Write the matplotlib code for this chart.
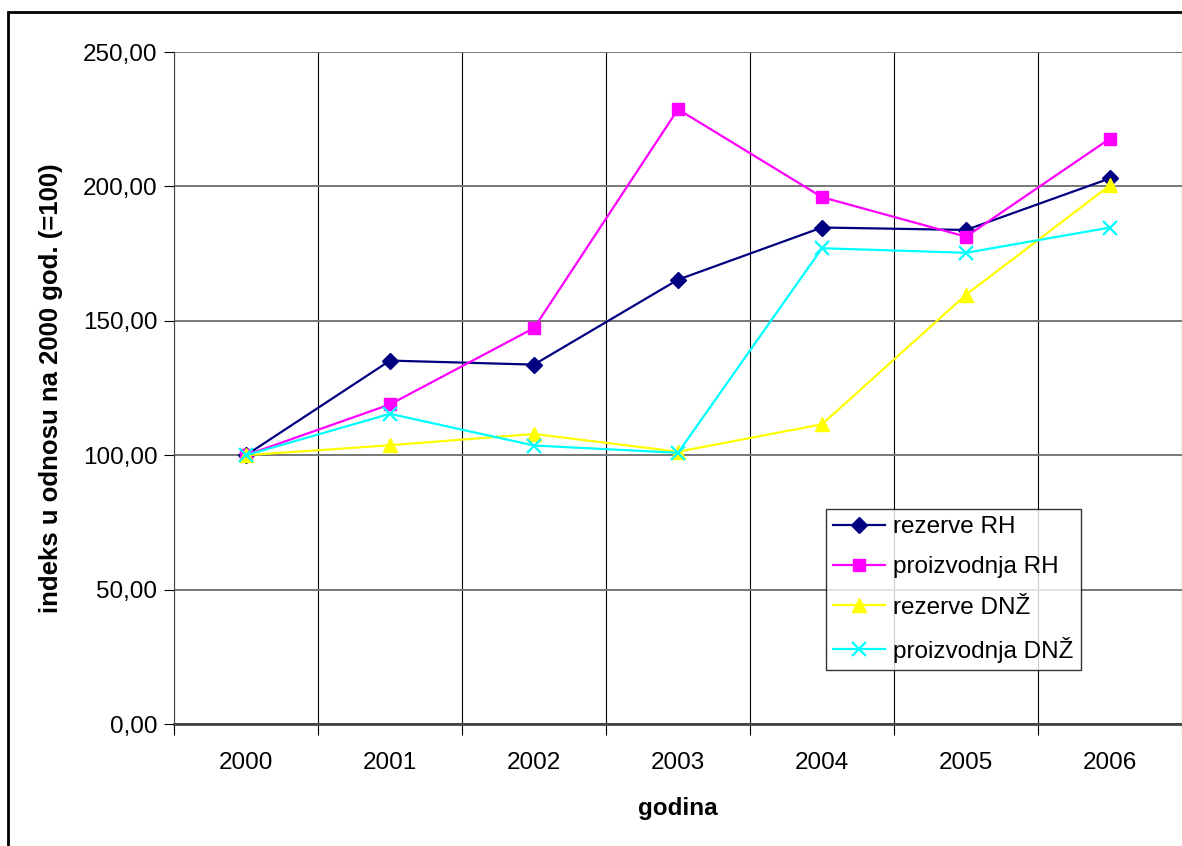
import matplotlib.pyplot as plt
from matplotlib.patches import Rectangle
from matplotlib.ticker import FuncFormatter

plt.rcParams['font.family'] = ['Liberation Sans', 'DejaVu Sans']

godine = ['2000', '2001', '2002', '2003', '2004', '2005', '2006']
rezerve_rh = [100.0, 135.2, 133.7, 165.3, 184.7, 183.8, 203.0]
proizvodnja_rh = [100.0, 118.9, 147.3, 228.7, 196.0, 181.3, 217.8]
rezerve_dnz = [100.0, 103.7, 107.9, 101.3, 111.5, 159.7, 200.4]
proizvodnja_dnz = [100.0, 115.4, 103.6, 100.9, 177.0, 175.3, 184.7]

fs = 17.5

fig = plt.figure(figsize=(11.82, 8.46), dpi=100)
ax = fig.add_axes([174/1182, 1 - 724/846, 1008/1182, 672/846])

# outer chart frame (partly cut off like the original)
fig.patches.append(Rectangle((8/1182, -0.1), 1.2, 1 - 12/846 + 0.1, transform=fig.transFigure,
                             fill=False, edgecolor='black', linewidth=2))

x = list(range(len(godine)))
ax.plot(x, rezerve_rh, color='#000080', marker='D', markersize=8, linewidth=1.6, label='rezerve RH')
ax.plot(x, proizvodnja_rh, color='#FF00FF', marker='s', markersize=8, linewidth=1.6, label='proizvodnja RH')
ax.plot(x, rezerve_dnz, color='#FFFF00', marker='^', markersize=10, linewidth=1.6, label='rezerve DNŽ')
ax.plot(x, proizvodnja_dnz, color='#00FFFF', marker='x', markersize=10, markeredgewidth=1.6,
        linewidth=1.6, label='proizvodnja DNŽ')

ax.set_xlim(-0.5, len(godine) - 0.5)
ax.set_ylim(0, 250)
ax.set_yticks(range(0, 251, 50))
ax.yaxis.set_major_formatter(FuncFormatter(lambda v, p: f'{v:.2f}'.replace('.', ',')))

ax.set_xticks([i - 0.5 for i in range(len(godine) + 1)])
ax.set_xticklabels([])
ax.set_xticks(x, minor=True)
ax.set_xticklabels(godine, minor=True)
ax.tick_params(axis='x', which='minor', length=0, pad=20, labelsize=fs)
ax.tick_params(axis='x', which='major', length=8, color='black')
ax.tick_params(axis='y', length=7, labelsize=fs, pad=5)

ax.grid(axis='x', which='major', color='black', linewidth=0.8)
ax.grid(axis='y', color='#777777', linewidth=1.4)
ax.set_axisbelow(True)

for s in ['top', 'right']:
    ax.spines[s].set_visible(False)
ax.spines['bottom'].set_color('#444444')
ax.spines['bottom'].set_linewidth(2)
ax.spines['left'].set_color('#444444')

ax.set_xlabel('godina', fontsize=fs, fontweight='bold', labelpad=17)
ax.set_ylabel('indeks u odnosu na 2000 god. (=100)', fontsize=18.5, fontweight='bold', labelpad=14)

leg = ax.legend(loc='lower left', bbox_to_anchor=(0.647, 0.08, 0.253, 0.243), mode='expand',
                fontsize=fs, frameon=True, fancybox=False, edgecolor='black',
                handlelength=2.1, handletextpad=0.35, labelspacing=0.75, borderpad=0.3,
                borderaxespad=0)
leg.get_frame().set_linewidth(1)

fig.savefig('out.png', dpi=100)
